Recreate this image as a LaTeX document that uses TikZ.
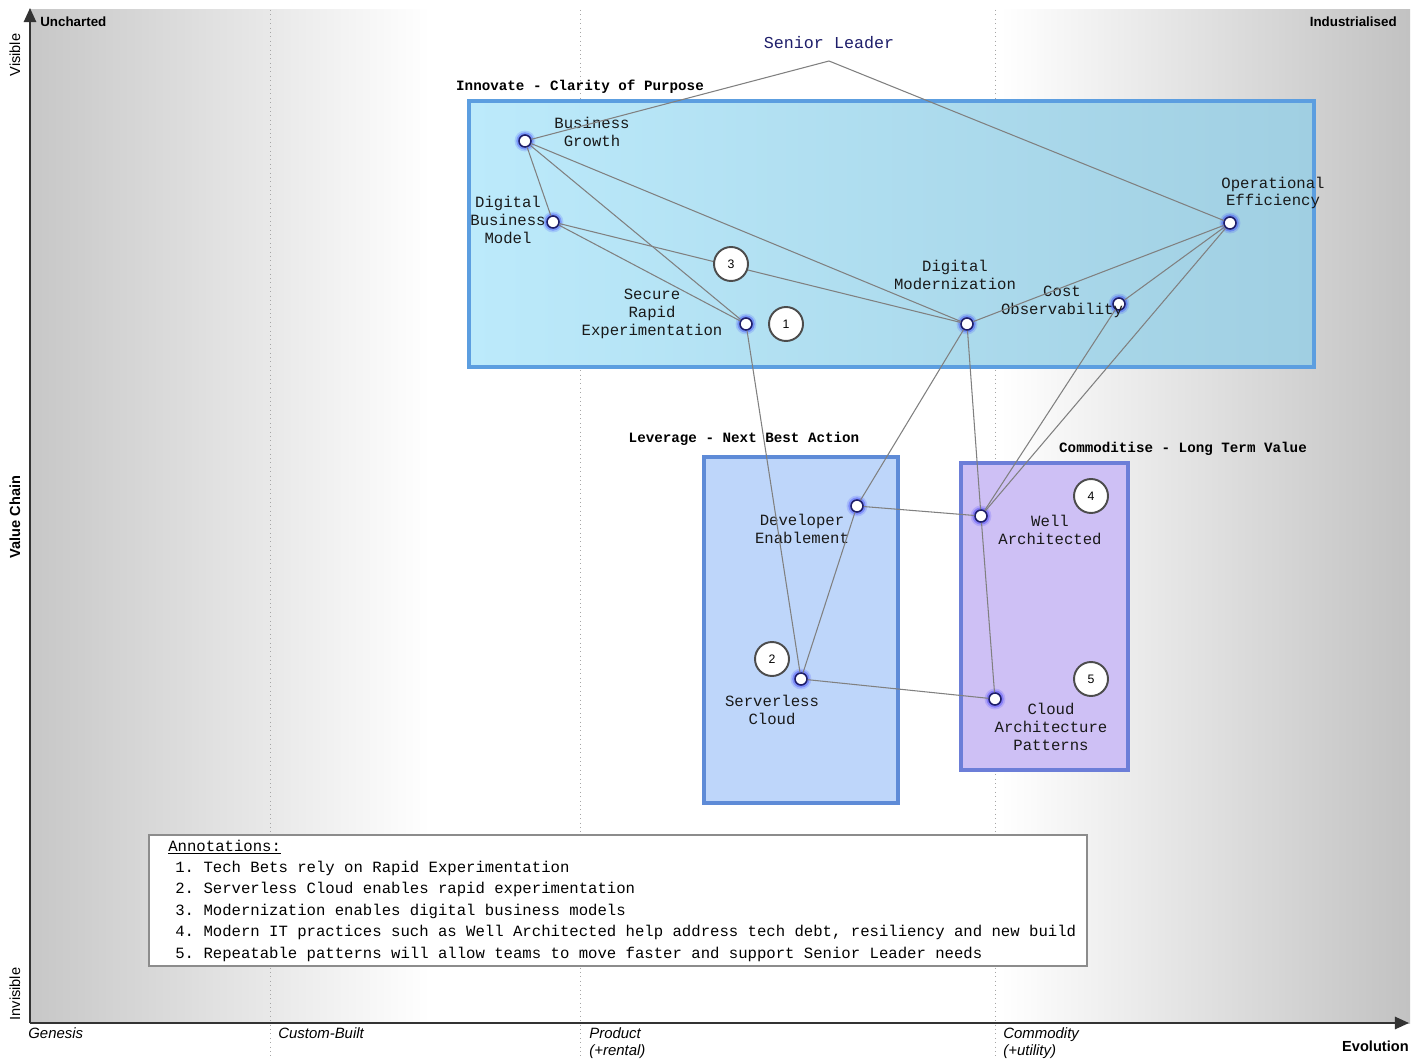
\documentclass[tikz,border=0pt]{standalone}
\usepackage{fontspec}
\setmainfont{Liberation Sans}
\setsansfont{Liberation Sans}
\setmonofont{Liberation Mono}
\usetikzlibrary{arrows.meta}
\definecolor{navy}{HTML}{1E1E6A}
\definecolor{innoL}{HTML}{BCEAFB}
\definecolor{innoR}{HTML}{A0CFE2}
\definecolor{innoB}{HTML}{5C9EE0}
\definecolor{levF}{HTML}{BED6FA}
\definecolor{levB}{HTML}{5E8BD7}
\definecolor{comF}{HTML}{CEC0F5}
\definecolor{comB}{HTML}{6C7ED8}
\begin{document}
\begin{tikzpicture}[x=0.02cm,y=-0.02cm]
    \tikzstyle{every node}+=[inner sep=0pt]
    \tikzstyle{comp}=[circle,draw=navy,fill=white,line width=0.9pt,minimum size=0.24cm,preaction={draw=blue,line width=5pt,draw opacity=0.12},preaction={draw=blue,line width=3pt,draw opacity=0.25}]
    \tikzstyle{lbl}=[font=\fontsize{8.9}{10.2}\selectfont\ttfamily,align=center,text=black!90]
    \tikzstyle{grptitle}=[font=\fontsize{8.1}{9}\selectfont\ttfamily\bfseries]
    \tikzstyle{note}=[circle,draw=black!70,fill=white,line width=1.1pt,minimum size=0.68cm,font=\fontsize{7}{8}\selectfont\sffamily]
    \tikzstyle{link}=[draw=black!50,line width=0.6pt]
    \tikzstyle{stage}=[font=\fontsize{8.5}{9.8}\selectfont\itshape,align=left,anchor=north west]
    \tikzstyle{anno}=[font=\fontsize{8.9}{10.2}\selectfont\ttfamily,anchor=base west]
    \useasboundingbox (0,0) rectangle (1426,1060);
    \fill[white] (0,0) rectangle (1426,1060);
    \shade[left color=black!22,right color=white] (30,10) rectangle (430,1023);
    \shade[left color=white,right color=black!24] (1000,10) rectangle (1410,1023);
    \foreach \x in {270,580,995}
        \draw[black!35,dotted,line width=0.5pt] (\x,10) -- (\x,1058);
    \draw[black!80,line width=1pt,-{Triangle[length=8pt,width=7pt]}] (30,1023) -- (30,8);
    \draw[black!80,line width=1pt,-{Triangle[length=8pt,width=7pt]}] (30,1023) -- (1409,1023);
    \node[font=\fontsize{7.6}{9}\selectfont\bfseries,anchor=west] (unch) at (40,22) {Uncharted};
    \node[font=\fontsize{7.6}{9}\selectfont\bfseries,anchor=east] (indu) at (1397,22) {Industrialised};
    \node[font=\fontsize{8.3}{9}\selectfont,rotate=90] (vis) at (15,55) {Visible};
    \node[font=\fontsize{8.3}{9}\selectfont,rotate=90] (invis) at (15,994) {Invisible};
    \node[font=\fontsize{8.3}{9}\selectfont\bfseries,rotate=90] (vchain) at (15,517) {Value Chain};
    \node[font=\fontsize{8.3}{9}\selectfont\bfseries,anchor=east] (evo) at (1409,1046) {Evolution};
    \node[stage] (gen) at (28,1027) {Genesis};
    \node[stage] (cust) at (278,1027) {Custom-Built};
    \node[stage] (prod) at (589,1027) {Product\\(+rental)};
    \node[stage] (comm) at (1003,1027) {Commodity\\(+utility)};

    \draw[draw=innoB,line width=2.3pt,left color=innoL,right color=innoR] (469,101) rectangle (1314,367);
    \draw[draw=levB,line width=2.3pt,fill=levF] (704,457) rectangle (898,803);
    \draw[draw=comB,line width=2.3pt,fill=comF] (961,463) rectangle (1128,770);
    \node[grptitle] (inno) at (580,87) {Innovate - Clarity of Purpose};
    \node[grptitle] (lev) at (744,439) {Leverage - Next Best Action};
    \node[grptitle] (commo) at (1183,449) {Commoditise - Long Term Value};

    \node[font=\fontsize{9.5}{11}\selectfont\ttfamily,text=navy] (sl) at (829,43) {Senior Leader};
    \coordinate (slp) at (829,61);
    \node[comp] (bg) at (525,141) {};
    \node[comp] (dbm) at (553,222) {};
    \node[comp] (sre) at (746,324) {};
    \node[comp] (dm) at (967,324) {};
    \node[comp] (co) at (1119,304) {};
    \node[comp] (oe) at (1230,223) {};
    \node[comp] (de) at (857,506) {};
    \node[comp] (sc) at (801,679) {};
    \node[comp] (wa) at (981,516) {};
    \node[comp] (cap) at (995,699) {};
    \node[lbl] (bg-l) at (592,132) {Business\\Growth};
    \node[lbl] (dbm-l) at (508,220) {Digital\\Business\\Model};
    \node[lbl] (sre-l) at (652,314) {Secure\\Rapid\\Experimentation};
    \node[lbl] (dm-l) at (955,275) {Digital\\Modernization};
    \node[lbl] (co-l) at (1062,302) {Cost\\Observability};
    \node[lbl] (oe-l) at (1273,193) {Operational\\Efficiency};
    \node[lbl] (de-l) at (802,529) {Developer\\Enablement};
    \node[lbl] (sc-l) at (772,710) {Serverless\\Cloud};
    \node[lbl] (wa-l) at (1050,530) {Well\\Architected};
    \node[lbl] (cap-l) at (1051,727) {Cloud\\Architecture\\Patterns};

    \draw[link] (slp) -- (bg);
    \draw[link] (slp) -- (oe);
    \foreach \a/\b in {bg/dbm,bg/sre,bg/dm,dbm/sre,dbm/dm,dm/oe,co/oe,oe/wa,co/wa,dm/de,dm/wa,wa/cap,sre/sc,de/sc,de/wa,sc/cap}
        \draw[link] (\a) -- (\b);

    \node[note] (n1) at (786,324) {1};
    \node[note] (n2) at (772,659) {2};
    \node[note] (n3) at (731,264) {3};
    \node[note] (n4) at (1091,496) {4};
    \node[note] (n5) at (1091,679) {5};

    \draw[black!45,fill=white,line width=0.8pt] (149,835) rectangle (1087,966);
    \node[anno] (annot) at (168,851) {\underline{Annotations:}};
    \foreach \t [count=\i] in {{Tech Bets rely on Rapid Experimentation},
                               {Serverless Cloud enables rapid experimentation},
                               {Modernization enables digital business models},
                               {Modern IT practices such as Well Architected help address tech debt, resiliency and new build},
                               {Repeatable patterns will allow teams to move faster and support Senior Leader needs}}
        \node[anno] (item\i) at (175,{872+(\i-1)*21.5}) {\i. \t};
\end{tikzpicture}
\end{document}
